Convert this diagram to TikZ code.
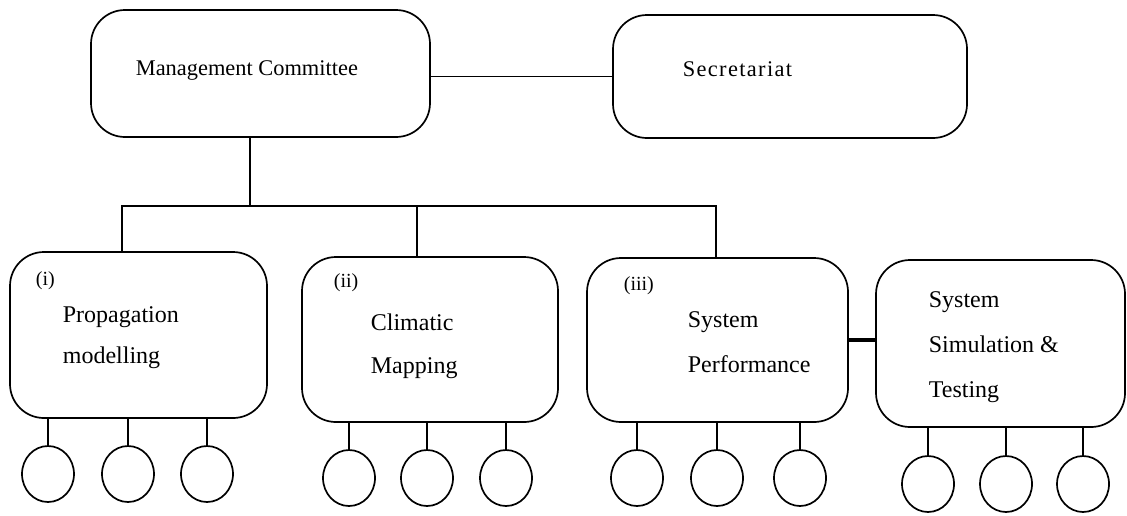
\documentclass[tikz,border=0pt]{standalone}
\usepackage{fontspec}
\setmainfont{Liberation Serif}
\usetikzlibrary{shapes.geometric}
\begin{document}
\begin{tikzpicture}[x=0.5pt,y=-0.5pt,
  line width=0.85pt,
  unit/.style={draw,rounded corners=17pt,minimum width=#1,inner sep=0pt},
  member/.style={draw,ellipse,minimum width=26pt,minimum height=28pt,inner sep=0pt},
  lbl/.style={anchor=base west,inner sep=0pt,font=\fontsize{12}{14}\selectfont},
  toplbl/.style={lbl,font=\fontsize{11.2}{13}\selectfont},
  numlbl/.style={lbl,font=\fontsize{10}{12}\selectfont},
  link/.style={line width=1.8pt}]
\useasboundingbox (0,0) rectangle (1127,515);

% top level
\node[unit=169.5pt,minimum height=63.5pt] (mc) at (260.5,73.5) {};
\node[unit=177pt,minimum height=61.5pt] (sec) at (790,76.5) {};
\node[toplbl] (mct) at (135,75) {Management Committee};
\node[toplbl] (sect) at (682,76) {\addfontfeature{LetterSpace=6}Secretariat};
\draw (sec.west) -- (sec.west -| mc.east);

% working groups
\node[unit=128.5pt,minimum height=83pt] (b1) at (138.5,335) {};
\node[unit=128pt,minimum height=82.5pt] (b2) at (430,339.5) {};
\node[unit=130.5pt,minimum height=82pt] (b3) at (717.5,340) {};
\node[unit=124.5pt,minimum height=83.5pt] (b4) at (1000.5,343.5) {};

\node[numlbl] (n1) at (35,285) {(i)};
\node[lbl] (t1a) at (62,322) {Propagation};
\node[lbl] (t1b) at (62,363) {modelling};
\node[numlbl] (n2) at (333,287) {(ii)};
\node[lbl] (t2a) at (370,330) {Climatic};
\node[lbl] (t2b) at (370,373) {Mapping};
\node[numlbl] (n3) at (623,290) {(iii)};
\node[lbl] (t3a) at (687,327) {System};
\node[lbl] (t3b) at (687,372) {Performance};
\node[lbl] (t4a) at (928,307) {System};
\node[lbl] (t4b) at (928,352) {Simulation \&};
\node[lbl] (t4c) at (928,397) {Testing};

% tree from the committee to the groups
\coordinate (bus) at (250,206);
\coordinate (d1) at (122,206);
\coordinate (d2) at (417,206);
\coordinate (d3) at (716,206);
\draw (mc.south -| bus) -- (bus);
\draw (b1.north -| d1) -- (d1) -- (d3) -- (b3.north -| d3);
\draw (d2) -- (b2.north -| d2);
\draw[link] (b3.east) -- (b3.east -| b4.west);

% members of each group
\foreach \g/\y/\xa/\xb/\xc in {1/474/48/128/207, 2/478/349/427/506, 3/478/637/717/800, 4/484/928/1006/1083}{
  \node[member] (c\g a) at (\xa,\y) {};
  \node[member] (c\g b) at (\xb,\y) {};
  \node[member] (c\g c) at (\xc,\y) {};
  \foreach \k in {a,b,c}
    \draw (c\g\k.north) -- (c\g\k.north |- b\g.south);
}
\end{tikzpicture}
\end{document}
